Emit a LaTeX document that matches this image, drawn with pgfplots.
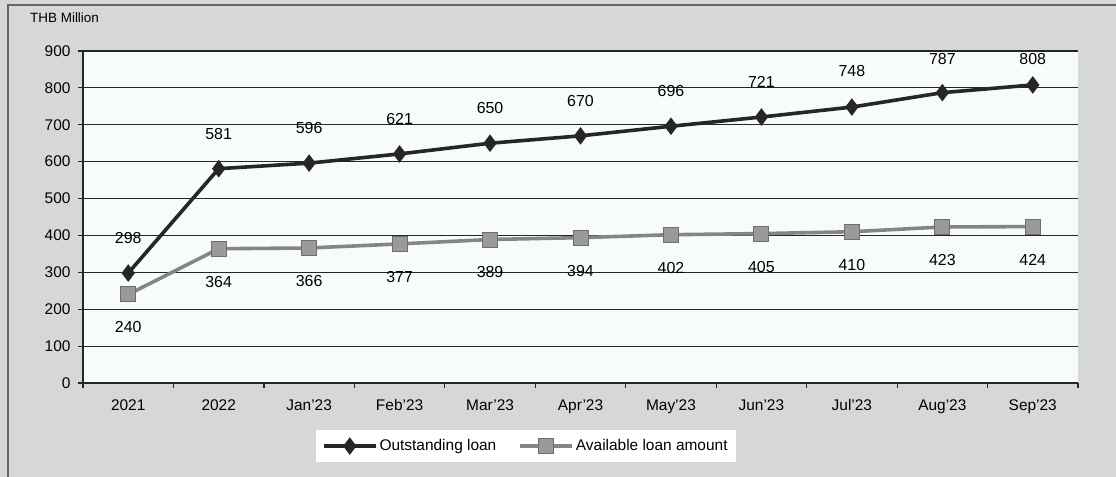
\documentclass[border=0pt]{standalone}
\usepackage{pgfplots}
\usepackage{pgfplotstable}
\pgfplotsset{compat=1.18}
\usepackage{fontspec}
\setmainfont{Liberation Sans}
\definecolor{bg}{HTML}{D5D7D9}
\definecolor{plotbg}{HTML}{F8FBFC}
\definecolor{outc}{HTML}{262626}
\definecolor{availc}{HTML}{858585}
\definecolor{availf}{HTML}{9A9A9A}
\definecolor{availd}{HTML}{6E6E6E}
\pgfplotstableread{
x y dy
0 298 35
1 581 35
2 596 35
3 621 35
4 650 35
5 670 35
6 696 35
7 721 35
8 748 36
9 787 34
10 808 26
}\outstanding
\pgfplotstableread{
x y dy
0 240 -33
1 364 -33
2 366 -33
3 377 -33
4 389 -33
5 394 -33
6 402 -33
7 405 -33
8 410 -33
9 423 -33
10 424 -33
}\available
\begin{document}
\begin{tikzpicture}
\fill[bg] (0bp,0bp) rectangle (1116bp,477bp);
\draw[black!60, line width=1.2bp] (8bp,0bp) -- (8bp,472bp) -- (1116bp,472bp);
\node[anchor=west, inner sep=0, font=\fontsize{13.5}{15}\selectfont] at (30bp,459bp) {THB Million};
\begin{axis}[
  at={(83bp,94bp)}, anchor=south west,
  scale only axis, width=995bp, height=332bp,
  xmin=-0.5, xmax=10.5, ymin=0, ymax=900,
  axis background/.style={fill=plotbg},
  axis x line*=bottom, axis y line*=left,
  axis line style={-, black!85, line width=1.2bp},
  ytick={0,100,...,900},
  ymajorgrids, grid style={black!85, line width=1.1bp},
  xtick={0,...,10},
  xticklabels={2021,2022,Jan'23,Feb'23,Mar'23,Apr'23,May'23,Jun'23,Jul'23,Aug'23,Sep'23},
  minor xtick={-0.5,0.5,...,10.5},
  tick align=outside,
  major tick length=5bp, minor tick length=5bp,
  x tick style={draw=none},
  minor x tick style={draw=black!85, line width=1.2bp},
  y tick style={black!85, line width=1.2bp},
  tick label style={font=\fontsize{15.5}{17}\selectfont},
  xticklabel style={yshift=-8bp},
  yticklabel style={xshift=-4bp},
  /pgf/number format/assume math mode=true,
  clip=false,
  legend style={at={(0.445,-0.19)}, anchor=center, legend columns=2, draw=none, fill=white,
    font=\fontsize{15.5}{17}\selectfont, inner xsep=6bp, inner ysep=8bp,
    /tikz/every even column/.append style={column sep=20bp}},
  legend image code/.code={\draw[#1,mark repeat=2,mark phase=2] plot coordinates {(0bp,0bp) (26bp,0bp) (52bp,0bp)};},
]
\addplot[outc, line width=3.6bp, mark=diamond*, mark size=8bp, mark options={fill=outc, line width=1bp},
  visualization depends on={\thisrow{dy} \as \dy},
  nodes near coords, nodes near coords style={anchor=center, yshift=\dy bp, text=black, font=\fontsize{16}{18}\selectfont}]
  table[x=x, y=y] {\outstanding};
\addlegendentry{Outstanding loan}
\addplot[availc, line width=3.6bp, mark=square*, mark size=7.5bp, mark options={fill=availf, draw=availd, line width=1bp},
  visualization depends on={\thisrow{dy} \as \dy},
  nodes near coords, nodes near coords style={anchor=center, yshift=\dy bp, text=black, font=\fontsize{16}{18}\selectfont}]
  table[x=x, y=y] {\available};
\addlegendentry{Available loan amount}
\end{axis}
\pgfresetboundingbox
\path (0bp,0bp) rectangle (1116bp,477bp);
\end{tikzpicture}
\end{document}
